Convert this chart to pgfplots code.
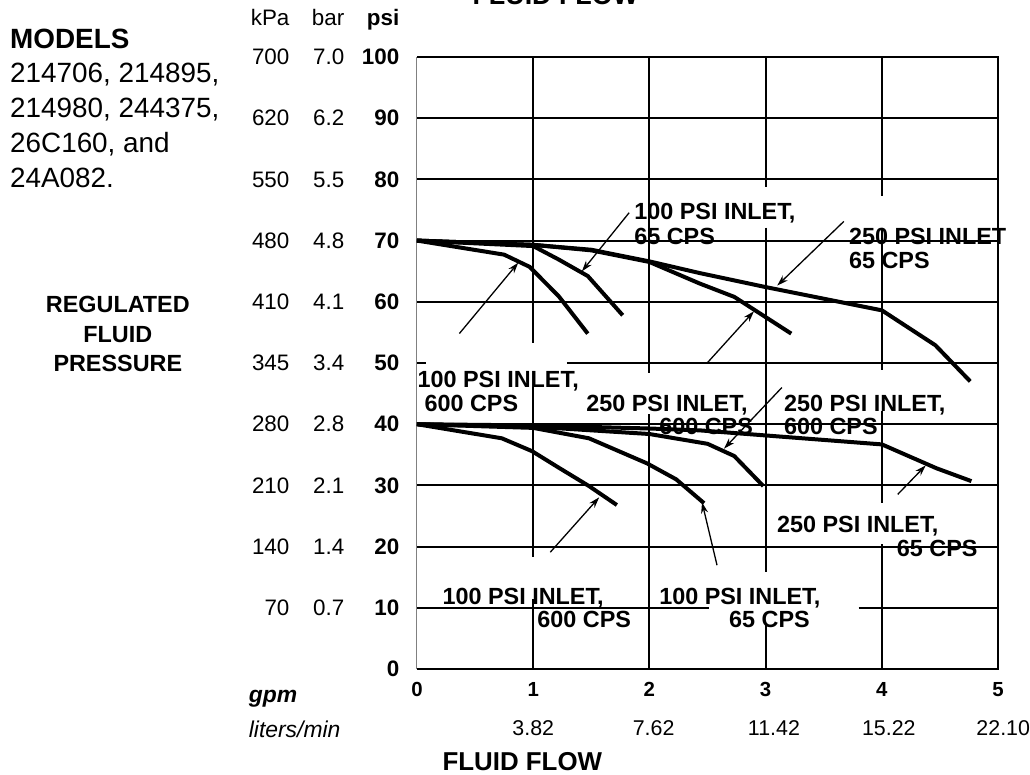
\documentclass[border=0pt]{standalone}
\usepackage{fontspec}
\setmainfont{Liberation Sans}
\usepackage{pgfplots}
\pgfplotsset{compat=1.18}
\usetikzlibrary{arrows.meta}
\newcommand{\yl}[3]{\makebox[45bp][r]{#1}\makebox[55bp][r]{#2}\makebox[55bp][r]{\bfseries #3}}
\newcommand{\lblf}{\fontsize{23.5}{28}\selectfont\bfseries}
\tikzset{crv/.style={black,line width=4bp,line join=round,mark=none},
  grd/.style={black,line width=2bp},
  arr/.style={black,line width=1.3bp,-{Stealth[length=11bp,width=7bp]}},
  lab/.style={anchor=base west,inner sep=0pt,font=\lblf}}
\begin{document}
\begin{tikzpicture}
\begin{scope}[x=1bp,y=-1bp,shift={(-417.5,-670)}]
\useasboundingbox (0,0) rectangle (1030,776);
\end{scope}
\begin{axis}[at={(0,0)},anchor=south west,scale only axis,width=582bp,height=613bp,
  xmin=0,xmax=5,ymin=0,ymax=100,clip=false,axis line style={draw=none},
  major tick length=0pt,
  xtick={0,1,2,3,4,5},xticklabels={0,1,2,3,4,5},
  xticklabel style={font=\fontsize{20.5}{24}\selectfont\bfseries,inner sep=0pt,anchor=base,yshift=-27bp},
  ytick={0,10,20,30,40,50,60,70,80,90,100},
  yticklabels={{\yl{}{}{0}},{\yl{70}{0.7}{10}},{\yl{140}{1.4}{20}},{\yl{210}{2.1}{30}},{\yl{280}{2.8}{40}},{\yl{345}{3.4}{50}},{\yl{410}{4.1}{60}},{\yl{480}{4.8}{70}},{\yl{550}{5.5}{80}},{\yl{620}{6.2}{90}},{\yl{700}{7.0}{100}}},
  yticklabel style={font=\fontsize{22.5}{27}\selectfont,inner sep=0pt,anchor=east,xshift=-17.5bp},
  /pgf/number format/assume math mode=true]
% grid
\draw[grd] (axis cs:0,10)--(axis cs:2.51,10) (axis cs:3.8,10)--(axis cs:5,10);
\draw[grd] (axis cs:0,20)--(axis cs:5,20);
\draw[grd] (axis cs:0,30)--(axis cs:5,30);
\draw[grd] (axis cs:0,40)--(axis cs:5,40);
\draw[grd] (axis cs:0,50)--(axis cs:0.08,50) (axis cs:1.29,50)--(axis cs:5,50);
\draw[grd] (axis cs:0,60)--(axis cs:5,60);
\draw[grd] (axis cs:0,70)--(axis cs:5,70);
\draw[grd] (axis cs:0,80)--(axis cs:5,80);
\draw[grd] (axis cs:0,90)--(axis cs:5,90);
\draw[grd] (axis cs:1,100)--(axis cs:1,53.3) (axis cs:1,46)--(axis cs:1,18.3) (axis cs:1,11.4)--(axis cs:1,0);
\draw[grd] (axis cs:2,100)--(axis cs:2,48.4) (axis cs:2,41.6)--(axis cs:2,0);
\draw[grd] (axis cs:3,100)--(axis cs:3,78.8) (axis cs:3,72.1)--(axis cs:3,15.8) (axis cs:3,7.3)--(axis cs:3,0);
\draw[grd] (axis cs:4,100)--(axis cs:4,77.2) (axis cs:4,72.1)--(axis cs:4,48.9) (axis cs:4,42.1)--(axis cs:4,27.2) (axis cs:4,20.4)--(axis cs:4,0);
% frame
\draw[black,line width=2bp] (axis cs:0,0)--(axis cs:5,0)--(axis cs:5,100)--(axis cs:0,100);
\draw[gray,line width=1bp] (axis cs:0,0)--(axis cs:0,100);
% curves, upper group
\addplot[crv] coordinates {(0,70) (1,69.3) (1.5,68.5) (2,66.6) (2.43,64.7) (3,62.4) (3.5,60.5) (4,58.6) (4.46,52.9) (4.76,47)};
\addplot[crv] coordinates {(0,70) (1,69.3) (1.5,68.4) (2,66.5) (2.43,63.0) (2.73,60.8) (3.22,54.8)};
\addplot[crv] coordinates {(0,70) (1,69.1) (1.22,66.9) (1.47,64.2) (1.77,57.8)};
\addplot[crv] coordinates {(0,70) (0.75,67.7) (0.97,65.7) (1.22,60.9) (1.47,54.8)};
% lower group
\addplot[crv] coordinates {(0,40) (0.73,37.7) (0.99,35.6) (1.22,32.9) (1.48,29.9) (1.72,26.8)};
\addplot[crv] coordinates {(0,40) (1,39.4) (1.48,37.7) (1.98,33.6) (2.23,31) (2.47,27.1)};
\addplot[crv] coordinates {(0,40) (1,39.6) (2,38.4) (2.5,36.8) (2.73,34.8) (2.98,29.9)};
\addplot[crv] coordinates {(0,40) (1,39.8) (2,39.3) (2.43,39.0) (4,36.7) (4.47,32.8) (4.77,30.7)};
\end{axis}
\begin{scope}[x=1bp,y=-1bp,shift={(-417.5,-670)}]
\path (0,0) rectangle (1030,776);
% arrows
\draw[arr] (630,213)--(582.7,271.7);
\draw[arr] (460,334)--(519,263);
\draw[arr] (845,221.7)--(778.3,286);
\draw[arr] (708.3,363.3)--(755,311.7);
\draw[arr] (783,388)--(725,449.3);
\draw[arr] (899,495)--(927,466);
\draw[arr] (551,553)--(600,498);
\draw[arr] (718,566)--(703,503);
% labels
\node[lab] at (635,220) {100 PSI INLET,};
\node[lab] at (635,245) {65 CPS};
\node[lab] at (850,245) {250 PSI INLET};
\node[lab] at (850,269) {65 CPS};
\node[lab] at (418,388) {100 PSI INLET,};
\node[lab] at (425,412) {600 CPS};
\node[lab] at (587,412) {250 PSI INLET,};
\node[lab] at (660,435) {600 CPS};
\node[lab] at (785,412) {250 PSI INLET,};
\node[lab] at (785,435) {600 CPS};
\node[lab] at (778,533) {250 PSI INLET,};
\node[lab] at (898,557) {65 CPS};
\node[lab] at (443,605) {100 PSI INLET,};
\node[lab] at (538,628) {600 CPS};
\node[lab] at (660,605) {100 PSI INLET,};
\node[lab] at (730,628) {65 CPS};
% titles
\node[overlay,anchor=base west,inner sep=0pt,font=\fontsize{27}{32}\selectfont\bfseries] at (473,5) {FLUID FLOW};
\node[anchor=base west,inner sep=0pt,font=\fontsize{26}{31}\selectfont\bfseries] at (443,772) {FLUID FLOW};
% left block
\node[anchor=base west,inner sep=0pt,font=\fontsize{28}{32}\selectfont\bfseries] at (10,48.5) {MODELS};
\node[anchor=base west,inner sep=0pt,font=\fontsize{28}{32}\selectfont] at (10,82.5) {214706, 214895,};
\node[anchor=base west,inner sep=0pt,font=\fontsize{28}{32}\selectfont] at (10,117.5) {214980, 244375,};
\node[anchor=base west,inner sep=0pt,font=\fontsize{28}{32}\selectfont] at (10,152.5) {26C160, and};
\node[anchor=base west,inner sep=0pt,font=\fontsize{28}{32}\selectfont] at (10,187.5) {24A082.};
\node[anchor=base,inner sep=0pt,font=\fontsize{23.5}{28}\selectfont\bfseries] at (118,312.5) {REGULATED};
\node[anchor=base,inner sep=0pt,font=\fontsize{23.5}{28}\selectfont\bfseries] at (118,342.5) {FLUID};
\node[anchor=base,inner sep=0pt,font=\fontsize{23.5}{28}\selectfont\bfseries] at (118,372.5) {PRESSURE};
% header of pressure scales
\node[anchor=base east,inner sep=0pt,font=\fontsize{22.5}{27}\selectfont] at (400,26) {\makebox[45bp][r]{kPa}\makebox[55bp][r]{bar}\makebox[55bp][r]{\bfseries psi}};
% flow scales
\node[anchor=base west,inner sep=0pt,font=\fontsize{23}{27}\selectfont\bfseries\itshape] at (249,703) {gpm};
\node[anchor=base west,inner sep=0pt,font=\fontsize{23}{27}\selectfont\itshape] at (249,739) {liters/min};
\node[anchor=base,inner sep=0pt,font=\fontsize{21.5}{26}\selectfont] at (534,737) {3.82};
\node[anchor=base,inner sep=0pt,font=\fontsize{21.5}{26}\selectfont] at (654.5,737) {7.62};
\node[anchor=base,inner sep=0pt,font=\fontsize{21.5}{26}\selectfont] at (775,737) {11.42};
\node[anchor=base,inner sep=0pt,font=\fontsize{21.5}{26}\selectfont] at (890,737) {15.22};
\node[anchor=base,inner sep=0pt,font=\fontsize{21.5}{26}\selectfont] at (1004.6,737) {22.10};
\end{scope}
\end{tikzpicture}
\end{document}
